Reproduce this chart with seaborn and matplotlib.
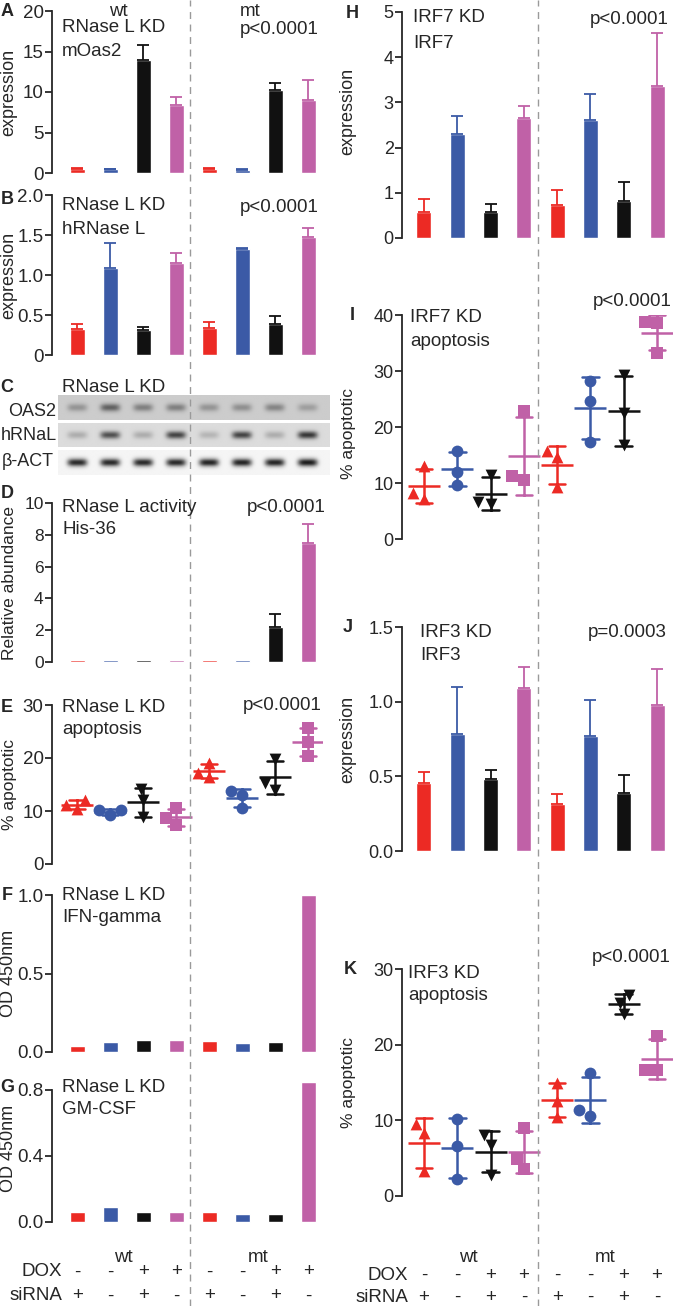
import numpy as np
import pandas as pd
import matplotlib
matplotlib.use('Agg')
import matplotlib.pyplot as plt
import matplotlib.transforms as mtransforms
from matplotlib.lines import Line2D
import seaborn as sns

sns.set_style('ticks')
plt.rcParams['font.family'] = ['Liberation Sans', 'DejaVu Sans']

# Lanes: wt / mt, with DOX and siRNA settings
genotype = ['wt'] * 4 + ['mt'] * 4
dox = ['-', '-', '+', '+', '-', '-', '+', '+']
sirna = ['+', '-', '+', '-', '+', '-', '+', '-']
lanes = [f'{g} DOX{d} si{s}' for g, d, s in zip(genotype, dox, sirna)]
cond_colors = ['#EC2A24', '#3B5AA6', '#111111', '#C061A7']
cond_markers = ['^', 'o', 'v', 's']
lane_colors = cond_colors * 2

# A: mOas2 expression (mean, sem)
a_mean = [0.5, 0.45, 14.0, 8.4, 0.5, 0.4, 10.3, 9.0]
a_err = [0.1, 0.1, 1.8, 1.0, 0.1, 0.05, 0.8, 2.5]
# B: hRNase L expression
b_mean = [0.33, 1.09, 0.31, 1.15, 0.34, 1.32, 0.39, 1.47]
b_err = [0.06, 0.31, 0.04, 0.13, 0.07, 0.02, 0.10, 0.12]
# C: western blot band intensities (0 = none, 1 = black)
oas2_band = [0.22, 0.42, 0.30, 0.30, 0.22, 0.24, 0.28, 0.18]
hrnal_band = [0.18, 0.55, 0.18, 0.60, 0.15, 0.60, 0.18, 0.65]
bact_band = [0.80, 0.80, 0.80, 0.80, 0.82, 0.82, 0.82, 0.85]
# D: RNase L activity
d_mean = [0.1, 0.1, 0.1, 0.1, 0.15, 0.15, 2.2, 7.5]
d_err = [0, 0, 0, 0, 0, 0, 0.8, 1.2]
# E: RNase L KD apoptosis (3 replicates per lane)
e_pts = [[12.0, 10.3, 11.2], [10.1, 9.2, 10.2], [14.2, 12.0, 8.8], [10.5, 8.6, 7.3],
         [19.0, 16.4, 17.2], [13.8, 13.0, 10.6], [19.8, 15.2, 14.0], [25.6, 23.0, 20.3]]
# F: IFN-gamma, G: GM-CSF
f_mean = [0.04, 0.064, 0.076, 0.076, 0.07, 0.057, 0.064, 1.0]
g_mean = [0.06, 0.09, 0.06, 0.06, 0.06, 0.05, 0.05, 0.85]
# H: IRF7 expression
h_mean = [0.57, 2.30, 0.57, 2.65, 0.72, 2.62, 0.82, 3.37]
h_err = [0.30, 0.40, 0.18, 0.28, 0.35, 0.56, 0.41, 1.17]
# I: IRF7 KD apoptosis
i_pts = [[13.0, 7.2, 8.2], [15.8, 12.0, 9.7], [11.5, 6.2, 6.6], [22.8, 10.5, 11.2],
         [15.7, 14.6, 9.3], [28.3, 24.6, 17.3], [29.3, 22.5, 16.7], [38.8, 38.5, 33.2]]
# J: IRF3 expression
j_mean = [0.455, 0.785, 0.48, 1.09, 0.315, 0.77, 0.39, 0.98]
j_err = [0.075, 0.315, 0.06, 0.14, 0.065, 0.24, 0.12, 0.24]
# K: IRF3 KD apoptosis
k_pts = [[9.5, 8.3, 3.3], [10.2, 6.6, 2.2], [8.0, 6.7, 2.8], [9.0, 4.9, 3.6],
         [15.0, 12.6, 10.5], [16.2, 11.3, 10.6], [26.6, 25.5, 24.0], [21.2, 16.6, 16.6]]

W, H = 674, 1306
fig = plt.figure(figsize=(W / 100, H / 100), dpi=100)


def add_ax(x0, y_top, x1, y_bot):
    return fig.add_axes([x0 / W, 1 - y_bot / H, (x1 - x0) / W, (y_bot - y_top) / H])


def label(x, y, s, size=13.5, ha='left', weight='normal'):
    fig.text(x / W, 1 - y / H, s, ha=ha, va='center', fontsize=size, fontweight=weight)


def style_axis(ax, ylim, ticks, ticklabels, ylabel, xlim, fs, label_x, label_y=0.5, label_fs=13):
    ax.set_ylim(ylim)
    ax.set_yticks(ticks)
    ax.set_yticklabels(ticklabels, fontsize=fs)
    ax.set_xlim(xlim)
    ax.set_xticks([])
    ax.set_xlabel('')
    for s in ['top', 'right', 'bottom']:
        ax.spines[s].set_visible(False)
    ax.spines['left'].set_linewidth(1.3)
    ax.tick_params(axis='y', length=5, width=1.3, pad=1)
    ax.set_ylabel(ylabel, fontsize=label_fs)
    ax.yaxis.set_label_coords(label_x, label_y)
    ax.patch.set_alpha(0)


def bar_panel(ax, means, errs=None):
    df = pd.DataFrame({'lane': lanes, 'value': means})
    sns.barplot(data=df, x='lane', y='value', hue='lane', order=lanes, hue_order=lanes,
                palette=lane_colors, width=0.45, saturation=1, errorbar=None,
                legend=False, ax=ax)
    for p in ax.patches:
        p.set_clip_on(False)
    if errs is None:
        return
    for i, (m, e) in enumerate(zip(means, errs)):
        if e > 0:
            ax.errorbar(i, m, yerr=[[0], [e]], fmt='none', ecolor=lane_colors[i],
                        elinewidth=1.3, capsize=4, capthick=1.3)


def scatter_panel(ax, pts):
    rows = []
    for i, vals in enumerate(pts):
        for v in vals:
            rows.append({'lane': lanes[i], 'value': v, 'cond': i % 4})
    df = pd.DataFrame(rows)
    for k in range(4):
        sub = df[df['cond'] == k]
        sns.swarmplot(data=sub, x='lane', y='value', order=lanes, color=cond_colors[k],
                      marker=cond_markers[k], size=8.5, linewidth=0, ax=ax)
        sns.pointplot(data=sub, x='lane', y='value', order=lanes, color=cond_colors[k],
                      errorbar='sd', capsize=0.5, marker='_', markersize=23,
                      markeredgewidth=1.8, linestyle='none',
                      err_kws={'linewidth': 1.8}, ax=ax)


L_XLIM = (-0.76, 7.42)
R_XLIM = (-0.66, 7.45)
L_LAB = -0.13
R_LAB = -0.17
L_FS = 13.5

# ---------------- left column ----------------
ax_a = add_ax(52, 11, 322, 173)
bar_panel(ax_a, a_mean, a_err)
style_axis(ax_a, (0, 20), [0, 5, 10, 15, 20], ['0', '5', '10', '15', '20'],
           'expression', L_XLIM, L_FS, L_LAB)

ax_b = add_ax(52, 195, 322, 355)
bar_panel(ax_b, b_mean, b_err)
style_axis(ax_b, (0, 2), [0, 0.5, 1.0, 1.5, 2.0], ['0', '0.5', '1.0', '1.5', '2.0'],
           'expression', L_XLIM, L_FS, L_LAB)

# C: western blot
c_x0, c_x1 = (58 - 77) / 33, (330 - 77) / 33
ax_c = add_ax(58, 395, 330, 475)
xs = np.linspace(c_x0, c_x1, 360)


def band_image(intensity, bg, n_rows=30):
    yy = np.linspace(-1, 1, n_rows)[:, None]
    img = np.full((n_rows, xs.size), bg)
    for i, a in enumerate(intensity):
        img = img - a * np.exp(-((xs - i) / 0.3) ** 4)[None, :] * np.exp(-(yy / 0.32) ** 2)
    return np.clip(img, 0, 1)


for band, bg, (top, bot) in [(oas2_band, 0.80, (0, 25)), (hrnal_band, 0.86, (28, 52)),
                             (bact_band, 0.96, (55, 80))]:
    ax_c.imshow(band_image(band, bg), cmap='gray', vmin=0, vmax=1, aspect='auto',
                interpolation='bilinear', extent=(c_x0, c_x1, bot, top))
ax_c.set_xlim(c_x0, c_x1)
ax_c.set_ylim(80, 0)
ax_c.axis('off')

ax_d = add_ax(52, 503, 322, 662)
bar_panel(ax_d, d_mean, d_err)
style_axis(ax_d, (0, 10), [0, 2, 4, 6, 8, 10], ['0', '2', '4', '6', '8', '10'],
           'Relative abundance', L_XLIM, 12.5, L_LAB, label_fs=12.5)

ax_e = add_ax(52, 705, 322, 864)
scatter_panel(ax_e, e_pts)
style_axis(ax_e, (0, 30), [0, 10, 20, 30], ['0', '10', '20', '30'],
           '% apoptotic', L_XLIM, L_FS, L_LAB, label_fs=12.5)

ax_f = add_ax(52, 895, 322, 1052)
bar_panel(ax_f, f_mean)
style_axis(ax_f, (0, 1), [0, 0.5, 1.0], ['0.0', '0.5', '1.0'],
           'OD 450nm', L_XLIM, L_FS, L_LAB)

ax_g = add_ax(52, 1090, 322, 1222)
bar_panel(ax_g, g_mean)
style_axis(ax_g, (0, 0.8), [0, 0.4, 0.8], ['0.0', '0.4', '0.8'],
           'OD 450nm', L_XLIM, L_FS, L_LAB, label_y=0.56)

# ---------------- right column ----------------
ax_h = add_ax(402, 12, 672, 238)
bar_panel(ax_h, h_mean, h_err)
style_axis(ax_h, (0, 5), [0, 1, 2, 3, 4, 5], ['0', '1', '2', '3', '4', '5'],
           'expression', R_XLIM, 13, R_LAB, label_y=0.56)

ax_i = add_ax(402, 315, 672, 539)
scatter_panel(ax_i, i_pts)
style_axis(ax_i, (0, 40), [0, 10, 20, 30, 40], ['0', '10', '20', '30', '40'],
           '% apoptotic', R_XLIM, 13, R_LAB, label_y=0.47, label_fs=12.5)

ax_j = add_ax(402, 627, 672, 851)
bar_panel(ax_j, j_mean, j_err)
style_axis(ax_j, (0, 1.5), [0, 0.5, 1.0, 1.5], ['0.0', '0.5', '1.0', '1.5'],
           'expression', R_XLIM, 13, R_LAB)

ax_k = add_ax(402, 969, 672, 1196)
scatter_panel(ax_k, k_pts)
style_axis(ax_k, (0, 30), [0, 10, 20, 30], ['0', '10', '20', '30'],
           '% apoptotic', R_XLIM, 13, R_LAB, label_fs=12.5)

# ---------------- texts ----------------
for x, y, s in [(7, 11, 'A'), (7, 200, 'B'), (7, 387, 'C'), (7, 493, 'D'), (7, 707, 'E'),
                (7, 895, 'F'), (7, 1088, 'G'), (352, 13, 'H'), (352, 315, 'I'),
                (348, 627, 'J'), (350, 970, 'K')]:
    label(x, y, s, size=13, ha='center', weight='bold')

label(118, 11, 'wt', ha='center')
label(250, 11, 'mt', ha='center')
for x, y, s in [(62, 28, 'RNase L KD'), (62, 52, 'mOas2'), (240, 30, 'p<0.0001'),
                (62, 205, 'RNase L KD'), (62, 230, 'hRNase L'), (240, 208, 'p<0.0001'),
                (62, 387, 'RNase L KD'),
                (62, 507, 'RNase L activity'), (62, 530, 'His-36'), (247, 507, 'p<0.0001'),
                (62, 707, 'RNase L KD'), (62, 730, 'apoptosis'), (243, 706, 'p<0.0001'),
                (62, 895, 'RNase L KD'), (62, 918, 'IFN-gamma'),
                (62, 1087, 'RNase L KD'), (62, 1109, 'GM-CSF'),
                (413, 17, 'IRF7 KD'), (413, 43, 'IRF7'), (590, 20, 'p<0.0001'),
                (410, 318, 'IRF7 KD'), (410, 341, 'apoptosis'), (593, 302, 'p<0.0001'),
                (420, 633, 'IRF3 KD'), (420, 656, 'IRF3'), (588, 633, 'p=0.0003'),
                (408, 973, 'IRF3 KD'), (408, 996, 'apoptosis'), (592, 957, 'p<0.0001')]:
    label(x, y, s)

for x, y, s in [(56, 411, 'OAS2'), (57, 436, 'hRNaL'), (54, 462, 'β-ACT')]:
    label(x, y, s, size=13, ha='right')

# bottom condition labels
for ax, wt_x, mt_x, lab_x, y_wt, y_dox, y_si in [(ax_g, 123, 258, 62, 1257, 1272, 1296),
                                                 (ax_k, 468, 605, 408, 1258, 1275, 1297)]:
    label(wt_x, y_wt, 'wt', size=13.5, ha='center')
    label(mt_x, y_wt, 'mt', size=13.5, ha='center')
    label(lab_x, y_dox, 'DOX', size=13.5, ha='right')
    label(lab_x, y_si, 'siRNA', size=13.5, ha='right')
    trans = mtransforms.blended_transform_factory(ax.transData, fig.transFigure)
    for i in range(8):
        fig.text(i, 1 - y_dox / H, dox[i], transform=trans, ha='center', va='center', fontsize=13.5)
        fig.text(i, 1 - y_si / H, sirna[i], transform=trans, ha='center', va='center', fontsize=13.5)

# dashed separators between wt and mt
for xpix in [190, 538]:
    fig.add_artist(Line2D([xpix / W, xpix / W], [0, 1], transform=fig.transFigure,
                          color='#9a9a9a', linewidth=1.0, linestyle=(0, (5, 4))))

fig.savefig('out.png', dpi=100)
